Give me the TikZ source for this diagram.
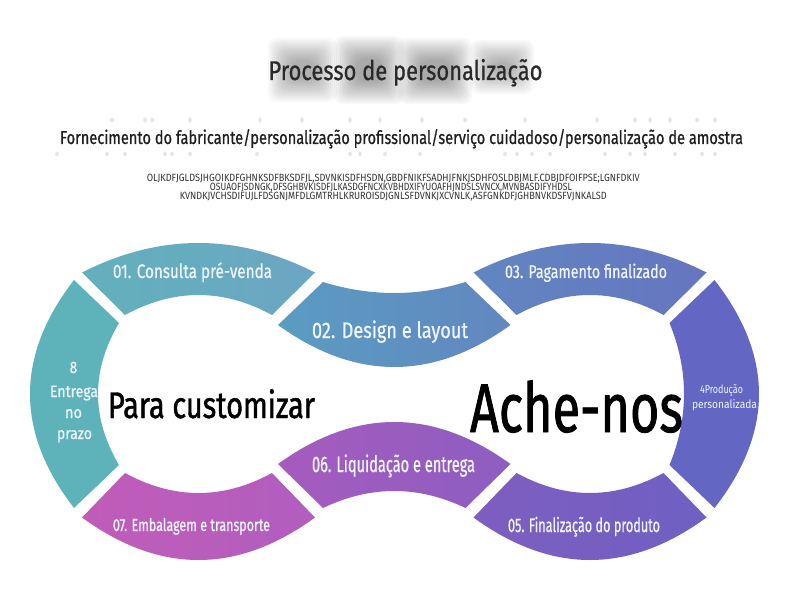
\documentclass[tikz,border=0pt]{standalone}
\usepackage{fontspec}
\usepackage{graphicx}
\setmainfont{Fira Sans}
\newfontfamily\cf[FakeStretch=0.82]{Fira Sans}
\newfontfamily\cfb[FakeStretch=0.82,FakeBold=1.2]{Fira Sans}
\newfontfamily\cfm[FakeStretch=0.82,FakeBold=0.7]{Fira Sans}
\newcommand\fitw[2]{\resizebox{#1pt}{\height}{#2}}
\newcommand\ghostblk[5]{\foreach \k in {0,1,...,11}{\fill[black,opacity=#5,rounded corners=9pt] ({#1+\k*2},{#2+\k*2}) rectangle ({#3-\k*2},{#4-\k*2});}}
\definecolor{labelc}{HTML}{F0F6FF}
\definecolor{c01l}{HTML}{62B0BD}\definecolor{c01r}{HTML}{6CA6C2}
\definecolor{c02l}{HTML}{5A9CC2}\definecolor{c02r}{HTML}{6287C0}
\definecolor{c03l}{HTML}{6186C0}\definecolor{c03r}{HTML}{6675C0}
\definecolor{c04}{HTML}{6366C2}
\definecolor{c05l}{HTML}{7E5EC0}\definecolor{c05r}{HTML}{6E60C2}
\definecolor{c06l}{HTML}{A65BBE}\definecolor{c06r}{HTML}{8C5EC0}
\definecolor{c07l}{HTML}{C15CB8}\definecolor{c07r}{HTML}{B05EBF}
\definecolor{c08}{HTML}{5DB3B9}
\definecolor{titlec}{HTML}{2A2A2A}
\definecolor{subc}{HTML}{1E1E1E}
\definecolor{smallc}{HTML}{333333}
\begin{document}
\begin{tikzpicture}[x=1pt,y=-1pt,
  lbl/.style={text=labelc, inner sep=0pt, anchor=base},
  dark/.style={inner sep=0pt, anchor=base},
  smudge/.style={fill=gray!60, opacity=0.35}]
\useasboundingbox (0,0) rectangle (790,596);
\fill[white] (0,0) rectangle (790,596);

% blurred ghost blocks behind the title
\ghostblk{268}{38}{337}{102}{0.028}
\ghostblk{334}{36}{404}{104}{0.032}
\ghostblk{398}{38}{472}{104}{0.032}
\ghostblk{470}{40}{534}{94}{0.028}
% smudges above and below the subtitle
\foreach \x in {112,145,152,190,260,302,350,380,422,465,525,597,635,650,670,697,715}
  \fill[smudge] (\x,120) ellipse (1.8 and 2.6);
\foreach \x in {57,107,125,165,172,190,257,350,360,385,420,505,517,532,550,605,630,645,675,702,715}
  \fill[smudge] (\x,154) ellipse (1.8 and 2.2);

% left loop
\shade[left color=c01l, right color=c01r] (82,272.5) .. controls (159.67,233.17) and (237.33,233.17) .. (315,272.5) -- (272,315) .. controls (223,288.33) and (174,288.33) .. (125,315) -- cycle;
\fill[c08] (74,280) .. controls (15.33,356) and (15.33,432) .. (74,508) -- (119,465) .. controls (91,417.67) and (91,370.33) .. (119,323) -- cycle;
\shade[left color=c07l, right color=c07r] (82,517.5) .. controls (159.67,574.17) and (237.33,574.17) .. (315,517.5) -- (272,473) .. controls (223,499.67) and (174,499.67) .. (125,473) -- cycle;
% middle bands
\shade[left color=c02l, right color=c02r] (323,282) .. controls (370.5,296.67) and (418,296.67) .. (465.5,282) -- (510.5,325) .. controls (433,381) and (355.5,381) .. (278,325) -- cycle;
\shade[left color=c06l, right color=c06r] (278,464) .. controls (355.5,408) and (433,408) .. (510.5,464) -- (465.5,508) .. controls (418,485.33) and (370.5,485.33) .. (323,508) -- cycle;
% right loop
\shade[left color=c03l, right color=c03r] (473.5,272.5) .. controls (551.17,233.17) and (628.83,233.17) .. (706.5,272.5) -- (663.5,315) .. controls (614.5,288.33) and (565.5,288.33) .. (516.5,315) -- cycle;
\fill[c04] (714.5,280) .. controls (773.83,356) and (773.83,432) .. (714.5,508) -- (669.5,465) .. controls (688.83,417.67) and (688.83,370.33) .. (669.5,323) -- cycle;
\shade[left color=c05l, right color=c05r] (473.5,517.5) .. controls (551.17,574.17) and (628.83,574.17) .. (706.5,517.5) -- (663.5,473) .. controls (614.5,499.67) and (565.5,499.67) .. (516.5,473) -- cycle;

% header texts
\node[dark, text=titlec, font=\cfm\fontsize{27}{28}\selectfont] (title) at (405.5,80) {\fitw{274}{Processo de personalização}};
\node[dark, text=subc, font=\cfm\fontsize{18.5}{20}\selectfont] (subtitle) at (401.5,144) {\fitw{683}{Fornecimento do fabricante/personalização profissional/serviço cuidadoso/personalização de amostra}};
\node[dark, text=smallc, font=\cf\fontsize{10.5}{11}\selectfont] (small1) at (393.3,181.5) {\fitw{493}{OLJKDFJGLDSJHGOIKDFGHNKSDFBKSDFJL,SDVNKISDFHSDN,GBDFNIKFSADHJFNKJSDHFOSLDBJMLF.CDBJDFOIFPSE;LGNFDKIV}};
\node[dark, text=smallc, font=\cf\fontsize{10.5}{11}\selectfont] (small2) at (391,190.7) {\fitw{362}{OSUAOFJSDNGK,DFSGHBVKISDFJLKASDGFNCXKVBHDXIFYUOAFHJNDSLSVNCX,MVNBASDIFYHDSL}};
\node[dark, text=smallc, font=\cf\fontsize{10.5}{11}\selectfont] (small3) at (393.3,200) {\fitw{427}{KVNDKJVCHSDIFUJLFDSGNJMFDLGMTRHLKRUROISDJGNLSFDVNKJXCVNLK,ASFGNKDFJGHBNVKDSFVJNKALSD}};

% segment labels
\node[lbl, font=\cfm\fontsize{19.5}{20}\selectfont] (l01) at (192.5,278) {\fitw{159}{01. Consulta pré-venda}};
\node[lbl, font=\cfm\fontsize{22.5}{24}\selectfont] (l02) at (390,338) {\fitw{156}{02. Design e layout}};
\node[lbl, font=\cfm\fontsize{18.5}{20}\selectfont] (l03) at (586,278) {\fitw{162}{03. Pagamento finalizado}};
\node[lbl, font=\cf\fontsize{11.5}{12}\selectfont] (l04a) at (721.5,393) {\fitw{43}{4Produção}};
\node[lbl, font=\cf\fontsize{11.5}{12}\selectfont] (l04b) at (724.5,408) {\fitw{65}{personalizada}};
\node[lbl, font=\cfm\fontsize{19.5}{20}\selectfont] (l05) at (584,532) {\fitw{152}{05. Finalização do produto}};
\node[lbl, font=\cfm\fontsize{22.5}{24}\selectfont] (l06) at (393.5,472) {\fitw{163}{06. Liquidação e entrega}};
\node[lbl, font=\cfm\fontsize{17.5}{18}\selectfont] (l07) at (191.5,531) {\fitw{157}{07. Embalagem e transporte}};
\node[lbl, font=\cfm\fontsize{16.5}{18}\selectfont] (l08a) at (73.5,373) {8};
\node[lbl, font=\cfm\fontsize{16.5}{18}\selectfont] (l08b) at (74,397) {\fitw{48}{Entrega}};
\node[lbl, font=\cfm\fontsize{16.5}{18}\selectfont] (l08c) at (73.5,418) {\fitw{17}{no}};
\node[lbl, font=\cfm\fontsize{16.5}{18}\selectfont] (l08d) at (74.5,439) {\fitw{35}{prazo}};

% central words
\node[dark, text=black, font=\cfb\fontsize{37}{38}\selectfont] (para) at (211.5,418) {\fitw{207}{Para customizar}};
\node[dark, text=black, font=\cfb\fontsize{69}{70}\selectfont] (ache) at (576.5,432) {\fitw{213}{Ache-nos}};
\end{tikzpicture}
\end{document}
